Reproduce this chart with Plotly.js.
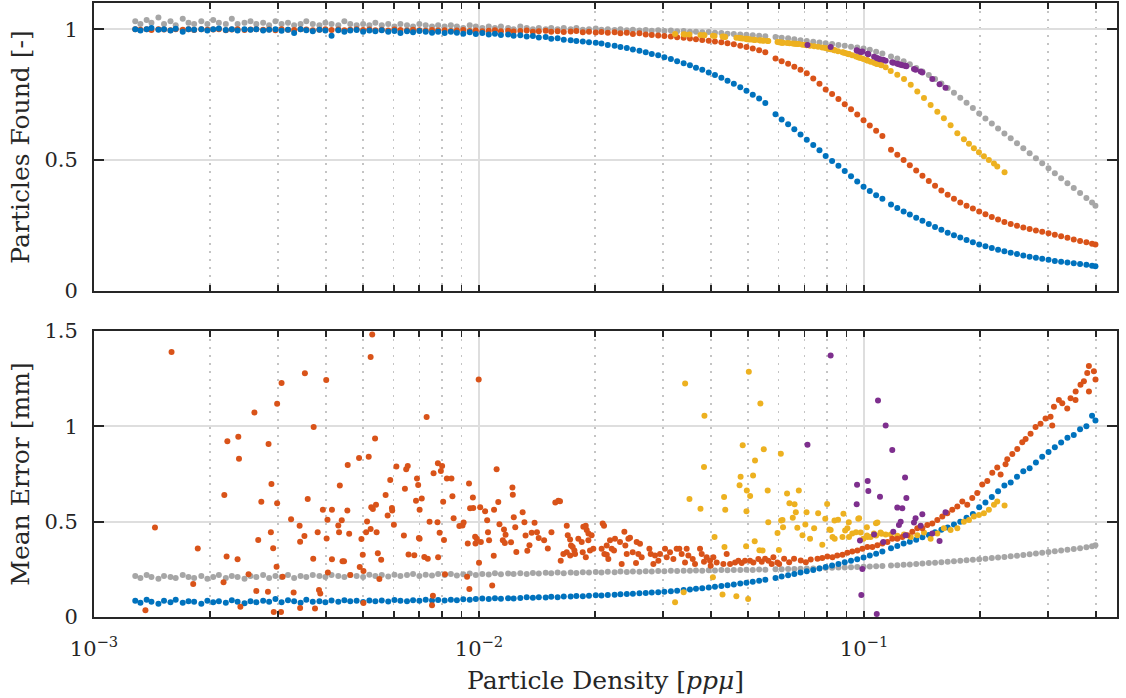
<!DOCTYPE html>
<html>
<head>
<meta charset="utf-8">
<script src="https://cdn.plot.ly/plotly-3.0.1.min.js"></script>
<style>html,body{margin:0;padding:0;background:#fff;}#chart{width:1126px;height:698px;}</style>
</head>
<body>
<div id="chart"></div>
<script>
// ---------- data ----------
const density = [
0.00128,0.00132,0.00137,0.00141,0.00147,0.00152,0.00158,0.00163,0.00170,0.00176,
0.00182,0.00190,0.00197,0.00204,0.00211,0.00220,0.00228,0.00236,0.00246,0.00255,
0.00264,0.00275,0.00285,0.00296,0.00307,0.00319,0.00331,0.00344,0.00356,0.00370,
0.00385,0.00399,0.00414,0.00431,0.00447,0.00463,0.00481,0.00500,0.00519,0.00538,
0.00559,0.00581,0.00603,0.00625,0.00650,0.00674,0.00700,0.00727,0.00755,0.00783,
0.00814,0.00845,0.00876,0.00910,0.00946,0.00981,0.0102,0.0106,0.0110,0.0114,
0.0119,0.0123,0.0128,0.0133,0.0138,0.0143,0.0149,0.0154,0.0160,0.0166,
0.0173,0.0179,0.0186,0.0193,0.0201,0.0208,0.0216,0.0225,0.0233,0.0242,
0.0251,0.0261,0.0271,0.0281,0.0292,0.0303,0.0315,0.0327,0.0340,0.0353,
0.0366,0.0380,0.0395,0.0410,0.0426,0.0442,0.0459,0.0477,0.0495,0.0514,
0.0534,0.0554,0.0589,0.0611,0.0635,0.0659,0.0684,0.0710,0.0738,0.0766,
0.0795,0.0826,0.0858,0.0891,0.0925,0.0960,0.0997,0.1035,0.1075,0.1116,
0.1175,0.1220,0.1267,0.1315,0.1366,0.1418,0.1473,0.1529,0.1588,0.1649,
0.1712,0.1778,0.1846,0.1917,0.1991,0.2067,0.2147,0.2229,0.2315,0.2404,
0.2496,0.2592,0.2692,0.2795,0.2902,0.3014,0.3130,0.3250,0.3375,0.3505,
0.3640,0.3780,0.3910,0.3990];

const grayFound = [
1.03,1.02,1.035,1.025,1.045,1.02,1.03,1.015,1.04,1.025,
1.02,1.03,1.02,1.035,1.025,1.02,1.04,1.02,1.025,1.03,
1.02,1.025,1.015,1.03,1.02,1.025,1.015,1.02,1.03,1.02,
1.015,1.025,1.02,1.015,1.03,1.02,1.015,1.02,1.015,1.025,
1.015,1.02,1.01,1.02,1.015,1.01,1.02,1.015,1.01,1.015,
1.01,1.015,1.01,1.005,1.015,1.01,1.005,1.01,1.005,1.01,
1.005,1.0,1.01,1.005,1.0,1.005,1.0,1.005,1.0,1.005,
1.0,1.005,0.998,1.0,1.003,0.998,1.0,0.997,1.0,0.996,
0.998,0.995,0.997,0.994,0.996,0.993,0.995,0.992,0.993,0.99,
0.99,0.988,0.989,0.986,0.985,0.983,0.982,0.98,0.979,0.977,
0.975,0.973,0.97,0.967,0.965,0.962,0.958,0.955,0.952,0.949,
0.946,0.943,0.94,0.937,0.933,0.93,0.926,0.921,0.914,0.907,
0.896,0.888,0.878,0.866,0.852,0.838,0.825,0.81,0.793,0.775,
0.757,0.738,0.719,0.699,0.678,0.659,0.64,0.621,0.602,0.583,
0.564,0.545,0.526,0.507,0.488,0.469,0.45,0.431,0.412,0.393,
0.374,0.355,0.338,0.326];

const orangeFound = [
1.0,0.998,1.0,0.997,1.0,0.999,0.996,1.0,0.998,1.0,
0.997,1.0,0.998,0.999,1.0,0.996,0.999,1.0,0.997,0.999,
1.0,0.998,0.999,0.996,1.0,0.998,0.997,1.0,0.999,0.996,
0.998,1.0,0.997,0.999,0.996,0.998,1.0,0.997,0.999,0.996,
0.998,0.995,0.999,0.997,0.995,0.998,0.996,0.994,0.997,0.995,
0.996,0.993,0.995,0.997,0.993,0.995,0.992,0.994,0.996,0.992,
0.994,0.991,0.993,0.995,0.99,0.992,0.994,0.99,0.992,0.989,
0.991,0.993,0.988,0.99,0.987,0.989,0.986,0.988,0.984,0.986,
0.982,0.984,0.98,0.978,0.976,0.974,0.972,0.969,0.967,0.964,
0.962,0.959,0.956,0.953,0.95,0.946,0.942,0.937,0.932,0.926,
0.92,0.912,0.888,0.878,0.868,0.857,0.845,0.832,0.812,0.792,
0.77,0.752,0.733,0.713,0.694,0.674,0.652,0.632,0.612,0.592,
0.54,0.52,0.5,0.48,0.46,0.44,0.42,0.402,0.384,0.368,
0.352,0.338,0.326,0.315,0.304,0.293,0.283,0.273,0.264,0.256,
0.249,0.243,0.237,0.231,0.226,0.221,0.215,0.209,0.203,0.197,
0.191,0.186,0.181,0.178];

const blueFound = [
1.0,0.995,1.0,1.005,0.998,1.0,0.995,1.002,0.99,1.0,
0.998,1.0,0.995,1.0,1.003,0.997,1.0,0.995,1.0,0.998,
1.0,0.995,0.998,1.0,0.994,0.998,0.985,1.0,0.996,0.992,
0.998,0.995,0.975,0.996,0.99,0.995,0.997,0.99,0.995,0.992,
0.996,0.99,0.993,0.985,0.992,0.988,0.993,0.99,0.986,0.99,
0.985,0.99,0.986,0.983,0.988,0.982,0.985,0.98,0.983,0.978,
0.98,0.975,0.977,0.972,0.974,0.968,0.97,0.963,0.965,0.96,
0.958,0.955,0.953,0.95,0.948,0.945,0.94,0.937,0.932,0.928,
0.922,0.918,0.912,0.905,0.9,0.893,0.886,0.878,0.87,0.862,
0.853,0.845,0.835,0.825,0.815,0.803,0.792,0.778,0.765,0.75,
0.735,0.718,0.675,0.655,0.637,0.618,0.598,0.578,0.558,0.538,
0.516,0.497,0.478,0.458,0.438,0.418,0.398,0.382,0.366,0.352,
0.33,0.317,0.304,0.292,0.28,0.268,0.256,0.245,0.234,0.223,
0.213,0.204,0.195,0.186,0.178,0.171,0.164,0.158,0.152,0.146,
0.141,0.136,0.131,0.127,0.123,0.119,0.115,0.112,0.109,0.106,
0.103,0.1,0.097,0.095];

const grayError = [
0.215,0.205,0.22,0.21,0.2,0.215,0.21,0.205,0.22,0.21,
0.205,0.215,0.2,0.21,0.22,0.205,0.215,0.21,0.2,0.215,
0.21,0.22,0.205,0.215,0.21,0.22,0.205,0.215,0.21,0.22,
0.215,0.21,0.22,0.215,0.21,0.22,0.215,0.21,0.222,0.215,
0.22,0.212,0.222,0.215,0.22,0.225,0.215,0.222,0.218,0.225,
0.22,0.226,0.218,0.224,0.228,0.22,0.226,0.223,0.229,0.224,
0.228,0.225,0.23,0.226,0.231,0.228,0.232,0.229,0.233,0.23,
0.234,0.231,0.235,0.233,0.236,0.234,0.237,0.235,0.238,0.236,
0.239,0.237,0.24,0.238,0.241,0.24,0.242,0.241,0.243,0.242,
0.244,0.243,0.245,0.244,0.246,0.245,0.247,0.246,0.248,0.247,
0.249,0.248,0.25,0.251,0.252,0.252,0.253,0.254,0.255,0.256,
0.257,0.258,0.259,0.26,0.261,0.262,0.263,0.265,0.266,0.268,
0.27,0.272,0.274,0.276,0.278,0.28,0.283,0.285,0.287,0.29,
0.292,0.295,0.297,0.3,0.303,0.306,0.309,0.312,0.315,0.318,
0.321,0.325,0.329,0.333,0.337,0.341,0.345,0.349,0.353,0.357,
0.361,0.366,0.371,0.376];

const blueError = [
0.085,0.075,0.09,0.08,0.07,0.085,0.078,0.09,0.075,0.082,
0.08,0.07,0.085,0.078,0.082,0.075,0.088,0.08,0.072,0.083,
0.078,0.085,0.08,0.095,0.078,0.088,0.082,0.075,0.09,0.08,
0.083,0.078,0.086,0.08,0.088,0.082,0.085,0.079,0.087,0.083,
0.086,0.081,0.089,0.085,0.082,0.088,0.085,0.09,0.086,0.089,
0.087,0.091,0.088,0.093,0.09,0.094,0.097,0.095,0.098,0.096,
0.099,0.097,0.1,0.103,0.101,0.104,0.102,0.106,0.104,0.107,
0.108,0.11,0.109,0.112,0.114,0.113,0.116,0.117,0.119,0.121,
0.122,0.124,0.126,0.128,0.13,0.133,0.135,0.138,0.141,0.144,
0.148,0.151,0.155,0.159,0.163,0.167,0.171,0.176,0.18,0.185,
0.19,0.196,0.205,0.212,0.219,0.226,0.233,0.24,0.247,0.254,
0.262,0.27,0.278,0.287,0.295,0.303,0.312,0.322,0.332,0.343,
0.36,0.372,0.385,0.395,0.405,0.418,0.43,0.445,0.458,0.47,
0.485,0.5,0.52,0.54,0.575,0.6,0.63,0.66,0.69,0.705,
0.735,0.765,0.78,0.81,0.84,0.865,0.89,0.915,0.94,0.955,
0.985,1.0,1.055,1.03];

const orangeErrX = [
0.00136,0.00144,0.00159,0.00181,0.00186,0.00217,0.00218,0.00221,0.00222,0.00236,
0.00237,0.00238,0.00240,0.00252,0.00261,0.00264,0.00267,0.00272,0.00283,0.00284,
0.00288,0.00289,0.00292,0.00293,0.00298,0.00299,0.00299,0.00306,0.00307,0.00309,
0.00325,0.00330,0.00342,0.00343,0.00343,0.00352,0.00353,0.00359,0.00371,0.00372,
0.00375,0.00381,0.00384,0.00387,0.00393,0.00401,0.00402,0.00404,0.00405,0.00415,
0.00415,0.00431,0.00433,0.00435,0.00440,0.00442,0.00446,0.00455,0.00456,0.00460,
0.00463,0.00488,0.00490,0.00495,0.00499,0.00501,0.00501,0.00509,0.00512,0.00517,
0.00523,0.00523,0.00525,0.00528,0.00530,0.00537,0.00540,0.00542,0.00546,0.00551,
0.00557,0.00572,0.00579,0.00588,0.00594,0.00595,0.00601,0.00610,0.00638,0.00642,
0.00647,0.00653,0.00656,0.00679,0.00686,0.00690,0.00695,0.00698,0.00701,0.00701,
0.00710,0.00721,0.00731,0.00736,0.00744,0.00755,0.00759,0.00762,0.00780,0.00782,
0.00783,0.00790,0.00796,0.00802,0.00807,0.00811,0.00816,0.00825,0.00848,0.00853,
0.00859,0.00889,0.00906,0.00912,0.00931,0.00935,0.00942,0.00944,0.00948,0.00964,
0.00966,0.00977,0.00979,0.00987,0.00998,0.01000,0.01007,0.01011,0.01037,0.01050,
0.01055,0.01062,0.01082,0.01092,0.01094,0.01111,0.01122,0.01130,0.01153,0.01161,
0.01167,0.01172,0.01211,0.01221,0.01224,0.01231,0.01242,0.01250,0.01298,0.01312,
0.01321,0.01335,0.01352,0.01370,0.01394,0.01414,0.01429,0.01476,0.01509,0.01542,
0.01578,0.01607,0.01623,0.0163,0.01656,0.0169,0.0169,0.0170,0.01724,0.01725,
0.01734,0.01751,0.01769,0.01776,0.01811,0.01848,0.01859,0.01866,0.01893,0.01894,
0.01904,0.01923,0.01924,0.01942,0.01961,0.01981,0.02082,0.02095,0.02112,0.02116,
0.02146,0.02147,0.02167,0.02189,0.02211,0.02242,0.02255,0.02324,0.02347,0.02385,
0.02399,0.02419,0.02443,0.02467,0.02507,0.02557,0.02567,0.02593,0.02619,0.02645,
0.0277,0.02792,0.02837,0.02865,0.02923,0.02952,0.03042,0.03072,0.03134,0.03197,
0.03261,0.03313,0.0336,0.03428,0.03462,0.03497,0.03589,0.03639,0.0375,0.03788,
0.0384,0.03902,0.03981,0.03997,0.04061,0.04143,0.04311,0.04398,0.04487,0.04624,
0.04716,0.04811,0.04908,0.05057,0.05159,0.05315,0.05423,0.05532,0.05644,0.05757,
0.05815,0.05956,0.0602,0.062,0.0639,0.0658,0.0685,0.0706,0.0727,0.0757,
0.0779,0.0803,0.0828,0.0852,0.0879,0.0905,0.0932,0.0961,0.099,0.102,
0.1051,0.1083,0.1116,0.115,0.1184,0.122,0.1257,0.1296,0.1335,0.1375,
0.1417,0.146,0.1504,0.155,0.1597,0.1645,0.1695,0.1747,0.18,0.1854,
0.191,0.1968,0.2028,0.209,0.2153,0.2218,0.2263,0.2331,0.2355,0.2427,
0.25,0.2576,0.2628,0.2707,0.2789,0.2873,0.2961,0.3051,0.3082,0.3113,
0.3207,0.3272,0.3371,0.3439,0.3542,0.3545,0.3649,0.3724,0.3799,0.3837,
0.3838,0.3953,0.3992];

const orangeErrY = [
0.036,0.47,1.39,0.173,0.359,0.182,0.64,0.317,0.922,0.303,
0.945,0.83,0.054,0.224,1.073,0.137,0.404,0.605,0.133,0.908,
0.445,0.698,0.36,0.026,0.263,0.596,1.118,0.026,1.227,0.211,
0.513,0.128,0.478,0.395,0.047,0.425,1.279,0.619,0.305,0.997,
0.045,0.445,0.142,0.123,0.563,1.243,0.412,0.51,0.234,0.562,
0.303,0.48,0.445,0.69,0.508,0.293,0.293,0.558,0.797,0.437,
0.22,0.834,0.262,0.409,0.326,0.241,0.073,0.445,0.501,0.841,
0.461,1.364,0.575,1.482,0.567,0.936,0.589,0.445,0.334,0.199,
0.3,0.64,0.532,0.718,0.572,0.558,0.484,0.789,0.428,0.672,
0.775,0.792,0.328,0.324,0.61,0.726,0.692,0.414,0.562,0.411,
0.622,0.315,1.049,0.305,0.499,0.062,0.111,0.754,0.497,0.806,
0.314,0.442,0.766,0.792,0.605,0.404,0.224,0.726,0.726,0.633,
0.518,0.477,0.48,0.496,0.211,0.386,0.7,0.147,0.57,0.627,
0.572,0.421,0.385,0.411,1.246,0.284,0.575,0.393,0.555,0.508,
0.444,0.402,0.165,0.321,0.563,0.775,0.603,0.487,0.402,0.459,
0.388,0.432,0.392,0.679,0.641,0.523,0.471,0.341,0.549,0.497,
0.428,0.347,0.376,0.442,0.494,0.445,0.414,0.402,0.359,0.445,
0.601,0.61,0.607,0.295,0.331,0.479,0.34,0.429,0.407,0.322,
0.375,0.367,0.349,0.331,0.411,0.393,0.34,0.473,0.479,0.313,
0.456,0.402,0.438,0.349,0.429,0.358,0.358,0.491,0.479,0.331,
0.375,0.326,0.304,0.402,0.358,0.349,0.411,0.393,0.278,0.447,
0.375,0.331,0.411,0.415,0.34,0.283,0.393,0.331,0.384,0.313,
0.358,0.331,0.278,0.322,0.295,0.331,0.358,0.313,0.34,0.304,
0.358,0.358,0.331,0.286,0.358,0.322,0.304,0.278,0.358,0.331,
0.29,0.313,0.295,0.269,0.313,0.286,0.278,0.331,0.278,0.286,
0.295,0.283,0.295,0.295,0.286,0.304,0.29,0.306,0.295,0.278,
0.313,0.286,0.278,0.305,0.287,0.305,0.296,0.287,0.301,0.305,
0.309,0.317,0.314,0.323,0.326,0.337,0.344,0.349,0.358,0.367,
0.367,0.376,0.385,0.394,0.411,0.411,0.42,0.429,0.447,0.465,
0.465,0.482,0.491,0.509,0.527,0.544,0.562,0.58,0.606,0.589,
0.624,0.651,0.695,0.713,0.757,0.784,0.748,0.801,0.828,0.855,
0.881,0.917,0.934,0.961,0.996,1.014,1.041,1.05,1.005,1.103,
1.138,1.121,1.094,1.147,1.138,1.183,1.218,1.236,1.28,1.316,
1.183,1.289,1.245];

const yellowX = [
0.0323,0.0340,0.0343,0.0352,0.0376,0.0384,0.0385,0.0405,0.0409,0.0429,
0.0433,0.0434,0.0436,0.0466,0.0475,0.0478,0.0484,0.0494,0.0495,0.0496,
0.0500,0.0502,0.0506,0.0515,0.0520,0.0521,0.0535,0.0538,0.0545,0.0549,
0.0562,0.0564,0.0596,0.0601,0.0608,0.0609,0.0614,0.0616,0.0631,0.0640,
0.0653,0.0660,0.0665,0.0671,0.0677,0.0692,0.0704,0.0709,0.0724,0.0742,
0.0760,0.0779,0.0793,0.0802,0.0813,0.0819,0.0828,0.0838,0.0839,0.0856,
0.0879,0.0884,0.0893,0.0905,0.0913,0.0914,0.0932,0.0953,0.0966,0.0971,
0.0980,0.0996,0.1017,0.1018,0.1020,0.1040,0.1061,0.1074,0.1075,0.1083,
0.1104,0.1110,0.1138,0.1173,0.1220,0.1270,0.1322,0.1375,0.1431,0.1489,
0.1550,0.1612,0.1678,0.1747,0.1817,0.1873,0.1929,0.1988,0.2048,0.2110,
0.2175,0.2218,0.2317];
const yellowFound = [
0.982,0.981,0.98,0.98,0.978,0.977,0.977,0.975,0.974,0.972,
0.971,0.971,0.97,0.967,0.966,0.965,0.964,0.963,0.963,0.962,
0.962,0.962,0.961,0.96,0.96,0.959,0.958,0.957,0.957,0.956,
0.955,0.955,0.951,0.95,0.949,0.949,0.948,0.948,0.947,0.946,
0.945,0.944,0.944,0.943,0.943,0.941,0.94,0.939,0.937,0.935,
0.933,0.93,0.928,0.926,0.924,0.923,0.922,0.92,0.92,0.916,
0.912,0.911,0.909,0.906,0.905,0.904,0.9,0.896,0.893,0.892,
0.89,0.886,0.881,0.881,0.88,0.876,0.872,0.869,0.869,0.867,
0.864,0.862,0.855,0.84,0.826,0.81,0.788,0.762,0.737,0.71,
0.685,0.66,0.633,0.603,0.58,0.562,0.545,0.53,0.515,0.5,
0.487,0.476,0.454];
const yellowErr = [
0.078,0.13,1.225,0.619,0.568,0.787,1.055,0.208,0.419,0.118,
0.629,0.367,0.563,0.109,0.691,0.735,0.901,0.371,0.555,0.664,
0.094,1.286,0.634,0.742,0.397,0.821,0.35,1.12,0.349,0.88,
0.664,0.497,0.44,0.352,0.856,0.506,0.509,0.471,0.648,0.596,
0.52,0.591,0.549,0.468,0.664,0.429,0.485,0.549,0.411,0.465,
0.544,0.379,0.515,0.593,0.459,0.456,0.42,0.506,0.411,0.51,
0.42,0.541,0.454,0.465,0.497,0.419,0.438,0.445,0.515,0.518,
0.443,0.411,0.471,0.428,0.42,0.42,0.438,0.492,0.428,0.496,
0.443,0.437,0.433,0.433,0.426,0.433,0.42,0.429,0.443,0.411,
0.438,0.465,0.456,0.465,0.5,0.509,0.527,0.535,0.544,0.562,
0.589,0.606,0.585];

const purpleX = [
0.0713,0.0819,0.0957,0.0959,0.0976,0.0984,0.0990,0.1022,0.1026,0.1062,
0.1079,0.1087,0.1100,0.1122,0.1138,0.1184,0.1191,0.1220,0.1232,0.1245,
0.1257,0.1278,0.1282,0.1288,0.1348,0.1361,0.1403,0.1417,0.1504,0.1571,
0.1628];
const purpleFound = [
0.94,0.932,0.92,0.918,0.914,0.913,0.915,0.906,0.904,0.895,
0.89,0.888,0.885,0.883,0.879,0.874,0.872,0.868,0.866,0.864,
0.862,0.86,0.86,0.858,0.848,0.845,0.838,0.835,0.81,0.79,
0.776];
const purpleErr = [
0.904,1.372,0.592,0.693,0.401,0.115,0.252,0.713,0.661,0.433,
0.016,1.135,0.631,0.394,1.004,0.876,0.447,0.574,0.482,0.5,
0.571,0.732,0.429,0.624,0.496,0.518,0.479,0.539,0.438,0.399,
0.55];

// ---------- styling ----------
const C = {blue:'#0072BD', orange:'#D95319', yellow:'#EDB120', purple:'#7E2F8E', gray:'#A6A6A6'};
const INK = '#262626';
const MS = 6;

function pts(x, y, color, xa, ya) {
  return {type:'scatter', mode:'markers', x:x, y:y, xaxis:xa, yaxis:ya,
          marker:{color:color, size:MS, line:{width:0}}, hoverinfo:'skip'};
}

const traces = [
  // top panel
  pts(density, grayFound, C.gray, 'x', 'y'),
  pts(density, orangeFound, C.orange, 'x', 'y'),
  pts(density, blueFound, C.blue, 'x', 'y'),
  pts(yellowX, yellowFound, C.yellow, 'x', 'y'),
  pts(purpleX, purpleFound, C.purple, 'x', 'y'),
  // bottom panel
  pts(density, grayError, C.gray, 'x2', 'y2'),
  pts(density, blueError, C.blue, 'x2', 'y2'),
  pts(yellowX, yellowErr, C.yellow, 'x2', 'y2'),
  pts(orangeErrX, orangeErrY, C.orange, 'x2', 'y2'),
  pts(purpleX, purpleErr, C.purple, 'x2', 'y2')
];

const majorX = [0.001, 0.01, 0.1];
const majorXText = ['10<sup>−3</sup>', '10<sup>−2</sup>', '10<sup>−1</sup>'];
const minorX = [];
[0.001, 0.01, 0.1].forEach(d => { for (let k = 2; k <= 9; k++) minorX.push(+(k*d).toPrecision(3)); });

function xAxis(anchor, labels) {
  return {
    type:'log', range:[-3, -0.343], anchor:anchor, domain:[0,1],
    tickmode:'array', tickvals:majorX, ticktext:majorXText, showticklabels:labels,
    ticks:'inside', ticklen:6, tickwidth:1.8, tickcolor:INK,
    showline:true, linewidth:2, linecolor:INK, mirror:'ticks',
    showgrid:true, gridcolor:'#dedede', gridwidth:2, zeroline:false,
    ticklabelstandoff:12,
    tickfont:{family:'DejaVu Serif', size:21, color:INK},
    minor:{tickmode:'array', tickvals:minorX, ticks:'inside', ticklen:6, tickwidth:1.8, tickcolor:INK,
           showgrid:true, gridcolor:'#c4c4c4', gridwidth:1.6, griddash:'2px,6px'}
  };
}
function yAxis(anchor, dom, rng, vals, text, title) {
  return {
    anchor:anchor, domain:dom, range:rng, tickmode:'array', tickvals:vals, ticktext:text,
    ticks:'inside', ticklen:10, tickwidth:1.8, tickcolor:INK,
    showline:true, linewidth:2, linecolor:INK, mirror:'ticks',
    showgrid:true, gridcolor:'#dedede', gridwidth:2, zeroline:false,
    ticklabelstandoff:10,
    tickfont:{family:'DejaVu Serif', size:21, color:INK},
    title:{text:title, standoff:8, font:{family:'DejaVu Serif', size:25, color:INK}}
  };
}

const xa2 = xAxis('y2', true);
xa2.title = {text:'Particle Density [<i>ppμ</i>]', standoff:11, font:{family:'DejaVu Serif', size:25, color:INK}};

const layout = {
  width:1126, height:698,
  margin:{l:94, r:9, t:3, b:81},
  paper_bgcolor:'#ffffff', plot_bgcolor:'#ffffff',
  font:{family:'DejaVu Serif', size:21, color:INK},
  showlegend:false,
  xaxis: xAxis('y', false),
  xaxis2: xa2,
  yaxis: yAxis('x', [0.5309, 1], [0, 1.1], [0, 0.5, 1], ['0','0.5','1'], 'Particles Found [-]'),
  yaxis2: yAxis('x2', [0, 0.4658], [0, 1.5], [0, 0.5, 1, 1.5], ['0','0.5','1','1.5'], 'Mean Error [mm]')
};

Plotly.newPlot('chart', traces, layout, {staticPlot:true, displayModeBar:false});
</script>
</body>
</html>
